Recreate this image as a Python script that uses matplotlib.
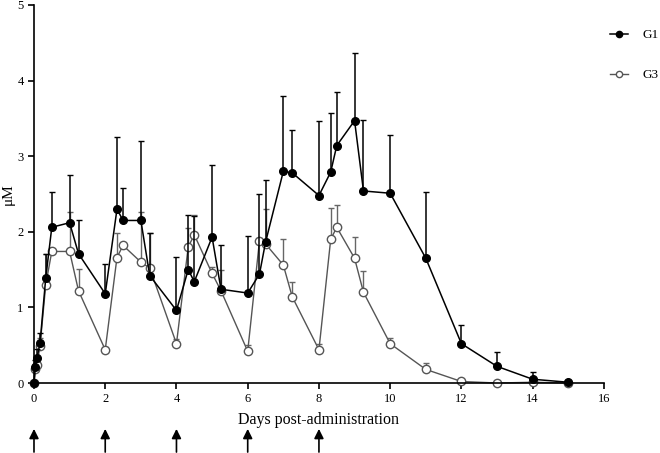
import matplotlib.pyplot as plt
from matplotlib.lines import Line2D
import numpy as np

plt.rcParams['font.family'] = ['Liberation Serif', 'DejaVu Serif']

# 时间点（天）
days = [0, 0.04, 0.083, 0.17, 0.33, 0.5, 1, 1.25, 2, 2.33, 2.5, 3, 3.25, 4, 4.33, 4.5,
        5, 5.25, 6, 6.33, 6.5, 7, 7.25, 8, 8.33, 8.5, 9, 9.25, 10, 11, 12, 13, 14, 15]

g1_mean = [0, 0.21, 0.33, 0.53, 1.39, 2.06, 2.12, 1.71, 1.18, 2.30, 2.15, 2.15, 1.42, 0.96, 1.50, 1.34,
           1.93, 1.24, 1.19, 1.44, 1.86, 2.80, 2.78, 2.48, 2.79, 3.14, 3.47, 2.54, 2.51, 1.65, 0.52, 0.22, 0.05, 0.01]
g1_top = [0, 0.30, 0.45, 0.66, 1.70, 2.52, 2.75, 2.15, 1.58, 3.26, 2.58, 3.20, 1.98, 1.67, 2.22, 2.21,
          2.88, 1.82, 1.94, 2.50, 2.68, 3.80, 3.35, 3.47, 3.57, 3.85, 4.36, 3.48, 3.28, 2.52, 0.77, 0.41, 0.14, 0.02]

g3_mean = [0, 0.19, 0.24, 0.49, 1.30, 1.74, 1.74, 1.22, 0.44, 1.66, 1.82, 1.60, 1.52, 0.52, 1.80, 1.96,
           1.45, 1.22, 0.42, 1.88, 1.84, 1.56, 1.14, 0.44, 1.90, 2.06, 1.65, 1.20, 0.52, 0.18, 0.02, 0.0, 0.01, 0.0]
g3_top = [0, 0.25, 0.32, 0.60, 1.70, 1.76, 2.26, 1.51, 0.47, 1.98, 1.84, 2.26, 1.99, 0.58, 2.05, 2.22,
          1.53, 1.50, 0.50, 1.92, 2.30, 1.90, 1.33, 0.51, 2.32, 2.35, 1.93, 1.48, 0.60, 0.27, 0.04, 0.0, 0.02, 0.0]

dose_days = [0, 2, 4, 6, 8]

fig = plt.figure(figsize=(6.6, 4.53), dpi=100)
ax = fig.add_axes([0.0515, 0.1545, 0.8635, 0.8345])

g1_err = np.array(g1_top) - np.array(g1_mean)
g3_err = np.array(g3_top) - np.array(g3_mean)

ax.errorbar(days, g3_mean, yerr=[np.zeros(len(days)), g3_err], color='#555555', ecolor='#666666',
            marker='o', markersize=6, markerfacecolor='white', markeredgecolor='#555555',
            linewidth=1, elinewidth=1, capsize=2.5, clip_on=False, zorder=2)
ax.errorbar(days, g1_mean, yerr=[np.zeros(len(days)), g1_err], color='black', ecolor='black',
            marker='o', markersize=5.5, markerfacecolor='black', markeredgecolor='black',
            linewidth=1.1, elinewidth=1.1, capsize=2.5, clip_on=False, zorder=3)

ax.set_xlim(0, 16)
ax.set_ylim(0, 5)
ax.set_xticks(range(0, 17, 2))
ax.set_yticks(range(0, 6))
ax.spines['top'].set_visible(False)
ax.spines['right'].set_visible(False)
ax.spines['left'].set_linewidth(1.2)
ax.spines['bottom'].set_linewidth(1.2)
ax.tick_params(labelsize=9, length=4, width=1.2, direction='out')
ax.set_xlabel('Days post-administration', fontsize=11.5, labelpad=5)
ax.set_ylabel('μM', fontsize=11, labelpad=2)

# 给药箭头
for d in dose_days:
    ax.annotate('', xy=(d, -0.57), xytext=(d, -0.95), xycoords='data',
                arrowprops=dict(arrowstyle='-|>', color='black', lw=1.2, mutation_scale=14),
                annotation_clip=False)

handles = [Line2D([], [], color='black', marker='o', markersize=4.5, lw=1.1),
           Line2D([], [], color='#555555', marker='o', markersize=4.5, markerfacecolor='white', lw=1)]
fig.legend(handles, ['G1', 'G3'], loc='upper left', bbox_to_anchor=(610 / 660, 1 - 29 / 453),
           frameon=False, fontsize=9.5, labelspacing=2.1, handlelength=1.4, handletextpad=1.05,
           borderaxespad=0, borderpad=0)

plt.savefig('out.png', dpi=100)
